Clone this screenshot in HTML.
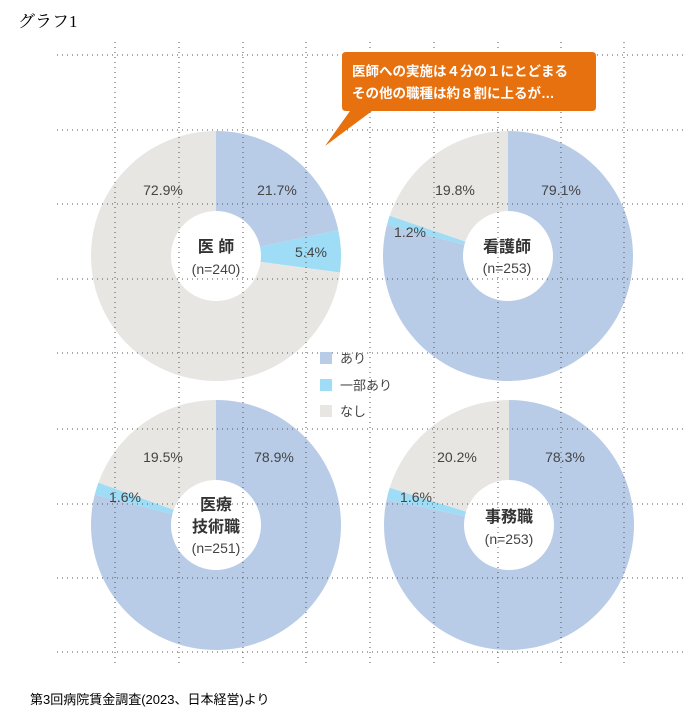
<!DOCTYPE html>
<html><head><meta charset="utf-8">
<style>
html,body{margin:0;padding:0;background:#fff;}
svg{display:block;}
</style></head>
<body>
<svg id="s" width="700" height="718" viewBox="0 0 700 718" xmlns="http://www.w3.org/2000/svg" font-family="'Liberation Sans','Noto Sans CJK JP',sans-serif">
<text x="18" y="27" font-family="'Liberation Serif','Noto Serif CJK SC',serif" font-size="17" fill="#000">グラフ1</text>
<g id="grid" stroke="#555" stroke-width="1" stroke-dasharray="1,4"></g>
<g id="pies"></g>
<!-- callout -->
<path d="M346,52 H592 Q596,52 596,56 V107 Q596,111 592,111 H372 L325,146 L350,111 H346 Q342,111 342,107 V56 Q342,52 346,52 Z" fill="#e8710f"/>
<text x="352" y="76" font-size="13.5" font-weight="bold" fill="#fff">医師への実施は４分の１にとどまる</text>
<text x="352" y="98" font-size="13.5" font-weight="bold" fill="#fff">その他の職種は約８割に上るが…</text>
<!-- legend -->
<rect x="320" y="352" width="12" height="12" fill="#b8cce8"/>
<text x="340" y="363" font-size="13" fill="#444">あり</text>
<rect x="320" y="379" width="12" height="12" fill="#9fdcf5"/>
<text x="340" y="390" font-size="13" fill="#444">一部あり</text>
<rect x="320" y="405" width="12" height="12" fill="#e8e6e3"/>
<text x="340" y="416" font-size="13" fill="#444">なし</text>
<g id="labels" fill="#444" font-size="14" text-anchor="middle">
<text x="163" y="195">72.9%</text><text x="277" y="195">21.7%</text><text x="311" y="257">5.4%</text>
<text x="216" y="252" font-size="16" font-weight="bold" fill="#333">医 師</text><text x="216" y="274">(n=240)</text>
<text x="455" y="195">19.8%</text><text x="561" y="195">79.1%</text><text x="410" y="237">1.2%</text>
<text x="507" y="252" font-size="16" font-weight="bold" fill="#333">看護師</text><text x="507" y="273">(n=253)</text>
<text x="163" y="462">19.5%</text><text x="274" y="462">78.9%</text><text x="125" y="502">1.6%</text>
<text x="216" y="510" font-size="16" font-weight="bold" fill="#333">医療</text>
<text x="216" y="532" font-size="16" font-weight="bold" fill="#333">技術職</text><text x="216" y="553">(n=251)</text>
<text x="457" y="462">20.2%</text><text x="565" y="462">78.3%</text><text x="416" y="502">1.6%</text>
<text x="509" y="522" font-size="16" font-weight="bold" fill="#333">事務職</text><text x="509" y="544">(n=253)</text>
</g>
<text x="30" y="704" font-size="13" fill="#000">第3回病院賃金調査(2023、日本経営)より</text>
</svg>
<script>
var NS="http://www.w3.org/2000/svg";
var g=document.getElementById('grid');
[55,130,204,279,353,429,504,578,652].forEach(function(y){var l=document.createElementNS(NS,'line');l.setAttribute('x1',57);l.setAttribute('x2',683);l.setAttribute('y1',y);l.setAttribute('y2',y);g.appendChild(l);});
[115,179,243,306,370,434,498,561,624].forEach(function(x){var l=document.createElementNS(NS,'line');l.setAttribute('x1',x);l.setAttribute('x2',x);l.setAttribute('y1',42);l.setAttribute('y2',665);g.appendChild(l);});
var p=document.getElementById('pies');
var cols=['#b8cce8','#9fdcf5','#e8e6e3'];
function pie(cx,cy,vals){var a=0,R=125,r=45;var tot=vals[0]+vals[1]+vals[2];
vals.forEach(function(v,i){var a0=a/tot*2*Math.PI,a1=(a+v)/tot*2*Math.PI;a+=v;
var large=(a1-a0)>Math.PI?1:0;
function pt(rad,an){return [cx+rad*Math.sin(an),cy-rad*Math.cos(an)];}
var p1=pt(R,a0),p2=pt(R,a1),p3=pt(r,a1),p4=pt(r,a0);
var d='M'+p1+' A'+R+','+R+' 0 '+large+' 1 '+p2+' L'+p3+' A'+r+','+r+' 0 '+large+' 0 '+p4+' Z';
var e=document.createElementNS(NS,'path');e.setAttribute('d',d);e.setAttribute('fill',cols[i]);p.appendChild(e);});}
pie(216,256,[21.7,5.4,72.9]);
pie(508,256,[79.1,1.2,19.8]);
pie(216,525,[78.9,1.6,19.5]);
pie(509,525,[78.3,1.6,20.2]);
// redraw grid over pies (grid dots visible on top)
p.parentNode.insertBefore(p,g);
</script>
</body></html>
